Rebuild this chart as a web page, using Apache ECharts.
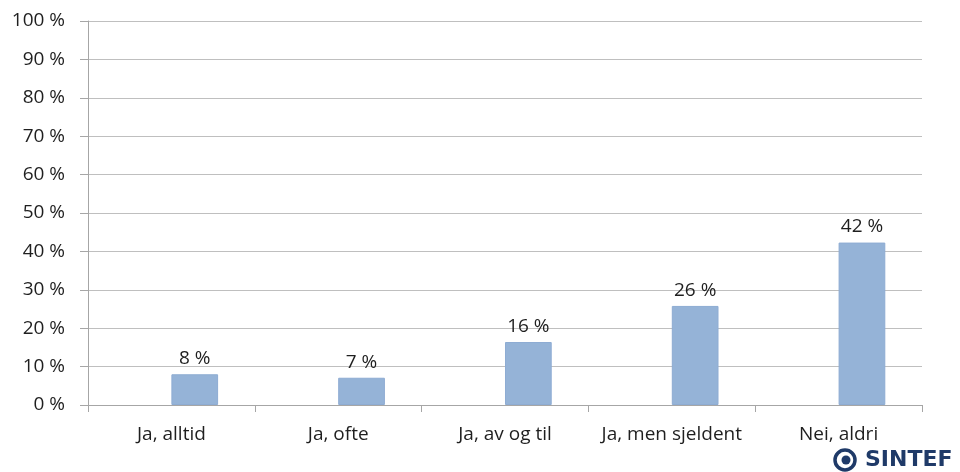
<!DOCTYPE html>
<html><head><meta charset="utf-8">
<script src="https://cdn.jsdelivr.net/npm/echarts@6/dist/echarts.min.js"></script>
<style>html,body{margin:0;padding:0;background:#fff}#c{width:960px;height:472px}</style>
</head><body><div id="c"></div>
<script>
const categories = ["Ja, alltid", "Ja, ofte", "Ja, av og til", "Ja, men sjeldent", "Nei, aldri"];
const values = [8.0, 7.1, 16.4, 25.8, 42.3];
const emptySeries = [null, null, null, null, null];
const yTicks = [0, 10, 20, 30, 40, 50, 60, 70, 80, 90, 100];

const FONT = "Open Sans";
const TXT = "#1f1f1f";
const NAVY = "#1F3A68";
const chart = echarts.init(document.getElementById('c'), null, {renderer: 'canvas'});
chart.setOption({
  animation: false,
  grid: {left: 88, right: 38, top: 21, bottom: 67},
  xAxis: {
    type: 'category', data: categories,
    axisLine: {lineStyle: {color: '#A6A6A6', width: 1}},
    axisTick: {show: true, interval: 0, length: 7, lineStyle: {color: '#A6A6A6'}},
    axisLabel: {interval: 0, color: TXT, fontFamily: FONT, fontSize: 19, margin: 20}
  },
  yAxis: {
    type: 'value', min: yTicks[0], max: yTicks[yTicks.length - 1], interval: 10,
    axisLine: {show: true, lineStyle: {color: '#A6A6A6', width: 1}},
    axisTick: {show: true, length: 8, lineStyle: {color: '#A6A6A6'}},
    splitLine: {lineStyle: {color: '#BFBFBF', width: 1}},
    axisLabel: {color: TXT, fontFamily: FONT, fontSize: 19, margin: 23, formatter: v => v + ' %'}
  },
  series: [
    {type: 'bar', data: emptySeries, barWidth: '28%', barGap: '0%'},
    {
      type: 'bar', data: values, barWidth: '28%', barGap: '0%',
      itemStyle: {color: '#95B3D7', borderColor: '#8EACD3', borderWidth: 1},
      label: {show: true, position: 'top', distance: 6, color: TXT, fontFamily: FONT, fontSize: 19,
        formatter: p => Math.round(p.value) + ' %'}
    }
  ],
  graphic: [
    {type: 'circle', shape: {cx: 845, cy: 460, r: 10}, style: {fill: 'none', stroke: NAVY, lineWidth: 3.5}},
    {type: 'circle', shape: {cx: 846, cy: 460, r: 4.5}, style: {fill: NAVY}},
    {type: 'text', left: 865, top: 449, style: {text: 'SINTEF', fill: NAVY, font: 'bold 22px "DejaVu Sans"'}}
  ]
});
</script></body></html>
